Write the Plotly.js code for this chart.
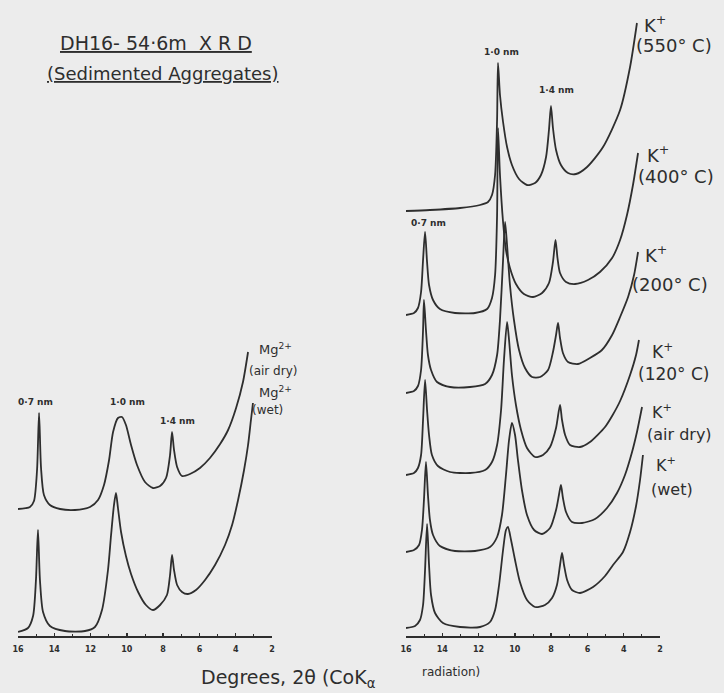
<!DOCTYPE html>
<html>
<head>
<meta charset="utf-8">
<script src="https://cdn.plot.ly/plotly-3.0.1.min.js"></script>
<style>html,body{margin:0;padding:0;background:#ececec;}#chart{width:724px;height:693px;}</style>
</head>
<body>
<div id="chart"></div>
<script>
// ---------------- DATA (2θ in degrees, intensity in arbitrary stacked units) ----------------
const tickDegrees = [16, 14, 12, 10, 8, 6, 4, 2];

// Left panel: Mg2+ saturated
const mgAirDry_2theta = [16.00,15.34,15.12,14.95,14.84,14.73,14.57,14.24,13.68,12.86,12.03,11.59,11.26,10.98,10.76,10.49,10.27,10.05,9.77,9.44,9.00,8.56,8.17,7.84,7.62,7.51,7.40,7.23,6.96,6.52,5.97,5.42,4.86,4.42,3.98,3.60,3.32];
const mgAirDry_I      = [127,129,135,166,223,168,141,131,127,126,129,136,151,176,204,218,219,211,191,171,154,148,150,158,181,204,186,169,160,162,168,178,192,206,228,254,284];

const mgWet_2theta = [16.00,15.45,15.17,15.01,14.90,14.79,14.62,14.24,13.41,12.31,11.76,11.37,11.04,10.87,10.71,10.60,10.49,10.32,10.05,9.77,9.38,8.95,8.56,8.17,7.79,7.62,7.51,7.40,7.23,6.96,6.63,6.19,5.69,5.14,4.59,4.20,3.87,3.54,3.32,3.16,3.05];
const mgWet_I      = [4,8,20,56,106,56,24,10,5,5,9,26,66,101,131,143,128,104,80,62,44,31,26,31,41,61,81,66,51,44,42,46,56,71,91,111,136,166,191,216,233];

// Right panel: K+ saturated
const k550_2theta = [16.00,14.68,13.02,11.92,11.48,11.26,11.09,10.98,10.93,10.82,10.65,10.43,10.16,9.77,9.33,8.89,8.56,8.28,8.12,8.01,7.90,7.73,7.46,7.07,6.63,6.02,5.14,4.20,3.65,3.27];
const k550_I      = [425,426,428,431,434,441,461,516,573,541,514,489,471,457,451,453,461,479,506,530,508,486,471,463,462,469,489,526,569,613];

const k400_2theta = [16.00,15.56,15.34,15.17,15.06,14.95,14.84,14.73,14.51,14.13,13.30,12.20,11.53,11.26,11.09,10.98,10.93,10.82,10.65,10.49,10.27,9.94,9.50,9.00,8.50,8.12,7.90,7.76,7.65,7.51,7.18,6.68,5.97,5.31,4.64,4.20,3.82,3.49,3.21];
const k400_I      = [321,323,328,344,376,404,374,351,336,327,323,323,327,338,361,421,508,461,414,386,368,352,342,339,343,353,374,396,378,363,354,352,356,364,378,396,421,451,483];

const k200_2theta = [16.00,15.56,15.34,15.17,15.06,15.01,14.90,14.79,14.62,14.29,13.57,12.47,11.64,11.26,10.98,10.82,10.65,10.54,10.43,10.27,10.05,9.77,9.44,9.05,8.61,8.17,7.90,7.73,7.62,7.51,7.35,7.07,6.52,5.86,5.20,4.64,4.20,3.76,3.43,3.21];
const k200_I      = [243,245,250,266,306,336,306,281,266,254,249,249,252,261,281,316,376,414,391,351,316,286,268,259,259,266,284,301,313,298,283,274,272,278,286,301,319,339,361,384];

const k120_2theta = [16.00,15.56,15.34,15.17,15.06,14.95,14.84,14.73,14.57,14.24,13.57,12.47,11.64,11.26,10.98,10.76,10.60,10.43,10.32,10.16,9.94,9.66,9.33,8.89,8.45,8.06,7.73,7.51,7.40,7.23,6.96,6.41,5.86,5.03,4.64,4.20,3.65,3.32,3.16];
const k120_I      = [161,163,168,181,216,256,226,201,181,170,164,163,166,174,191,226,276,314,296,261,231,206,188,179,181,189,208,231,216,201,191,189,194,209,220,235,261,281,296];

const kAirDry_2theta = [16.00,15.56,15.28,15.12,15.01,14.90,14.79,14.68,14.51,14.13,13.30,12.20,11.37,10.98,10.71,10.49,10.32,10.16,9.99,9.83,9.61,9.33,8.94,8.50,8.06,7.73,7.57,7.46,7.35,7.18,6.85,6.30,5.58,4.92,4.37,3.93,3.54,3.27,2.99];
const kAirDry_I      = [84,86,91,106,136,174,141,116,101,90,85,85,89,99,121,161,196,213,201,176,146,121,106,102,108,126,141,151,138,124,114,113,117,128,143,161,184,204,229];

const kWet_2theta = [16.00,15.50,15.23,15.06,14.95,14.84,14.73,14.62,14.40,13.96,13.02,11.92,11.37,11.09,10.87,10.65,10.49,10.38,10.21,9.99,9.72,9.33,8.89,8.34,7.95,7.68,7.51,7.40,7.29,7.12,6.85,6.41,5.69,5.03,4.59,4.04,3.65,3.32,3.10,2.94];
const kWet_I      = [8,10,16,31,66,112,71,41,23,13,9,9,14,26,51,86,106,109,96,76,54,36,29,31,38,51,71,83,71,56,46,43,49,60,71,84,104,130,156,181];

// ---------------- CHART ----------------
const W = 724, H = 693, PH = 636;
const INK = '#2e2e2e';
const FONT = 'DejaVu Sans, sans-serif';

function curve(x, y, axis) {
  return {x: x, y: y, xaxis: axis, yaxis: 'y', type: 'scatter', mode: 'lines',
          line: {color: INK, width: 1.8, shape: 'spline', smoothing: 0.7},
          hoverinfo: 'skip', showlegend: false};
}

const traces = [
  curve(mgAirDry_2theta, mgAirDry_I, 'x'),
  curve(mgWet_2theta, mgWet_I, 'x'),
  curve(k550_2theta, k550_I, 'x2'),
  curve(k400_2theta, k400_I, 'x2'),
  curve(k200_2theta, k200_I, 'x2'),
  curve(k120_2theta, k120_I, 'x2'),
  curve(kAirDry_2theta, kAirDry_I, 'x2'),
  curve(kWet_2theta, kWet_I, 'x2')
];

function xax(domain) {
  return {
    domain: domain, range: [16, 2], anchor: 'y',
    showgrid: false, zeroline: false, showline: true, linecolor: INK, linewidth: 2,
    tickvals: tickDegrees, ticktext: tickDegrees.map(String),
    ticks: 'inside', ticklen: 3, tickwidth: 1.5, tickcolor: INK,
    minor: {tickvals: [15,13,11,9,7,5,3], ticks: 'inside', ticklen: 2, tickwidth: 1, tickcolor: INK},
    tickfont: {family: FONT, size: 8, color: INK, weight: 'bold'},
    ticklabelstandoff: 4,
    fixedrange: true
  };
}

// paper-coordinate helper for text labels
function lab(text, px, py, anchor, size, extra) {
  return Object.assign({
    xref: 'paper', yref: 'paper', x: px / W, y: (PH - py) / PH,
    text: text, showarrow: false, xanchor: anchor, yanchor: 'middle',
    font: {family: FONT, size: size, color: INK}
  }, extra || {});
}
const peakFont = {family: FONT, size: 9, color: INK, weight: 'bold'};

const annotations = [
  lab('<u>DH16- 54·6m  X R D</u>', 156, 43, 'center', 19),
  lab('<u>(Sedimented Aggregates)</u>', 162, 74, 'center', 18),

  lab('K<sup>+</sup>', 642, 24, 'left', 18),
  lab('(550° C)', 634, 46, 'left', 18),
  lab('K<sup>+</sup>', 645, 154, 'left', 18),
  lab('(400° C)', 636, 176, 'left', 18),
  lab('K<sup>+</sup>', 643, 254, 'left', 18),
  lab('(200° C)', 630, 284, 'left', 18),
  lab('K<sup>+</sup>', 650, 351, 'left', 17),
  lab('(120° C)', 636, 374, 'left', 17),
  lab('K<sup>+</sup>', 650, 411, 'left', 16),
  lab('(air dry)', 645, 434, 'left', 16),
  lab('K<sup>+</sup>', 654, 464, 'left', 16),
  lab('(wet)', 649, 490, 'left', 16),

  lab('Mg<sup>2+</sup>', 257, 349, 'left', 13),
  lab('(air dry)', 247, 371, 'left', 12),
  lab('Mg<sup>2+</sup>', 257, 392, 'left', 13),
  lab('(wet)', 250, 410, 'left', 12),

  lab('0·7 nm', 35, 402, 'center', 9, {font: peakFont}),
  lab('1·0 nm', 127, 402, 'center', 9, {font: peakFont}),
  lab('1·4 nm', 177, 421, 'center', 9, {font: peakFont}),
  lab('1·0 nm', 502, 52, 'center', 9, {font: peakFont}),
  lab('1·4 nm', 556, 90, 'center', 9, {font: peakFont}),
  lab('0·7 nm', 428, 223, 'center', 9, {font: peakFont}),

  lab('Degrees, 2θ (CoK<sub>α</sub>', 199, 678, 'left', 19),
  lab('radiation)', 420, 672, 'left', 12)
];

const layout = {
  width: W, height: H,
  margin: {l: 0, r: 0, t: 0, b: H - PH, pad: 0},
  paper_bgcolor: '#ececec', plot_bgcolor: '#ececec',
  showlegend: false,
  xaxis: xax([18 / W, 272 / W]),
  xaxis2: xax([406 / W, 660 / W]),
  yaxis: {range: [0, PH], visible: false, fixedrange: true},
  annotations: annotations
};

Plotly.newPlot('chart', traces, layout, {staticPlot: true, displayModeBar: false});
</script>
</body>
</html>
